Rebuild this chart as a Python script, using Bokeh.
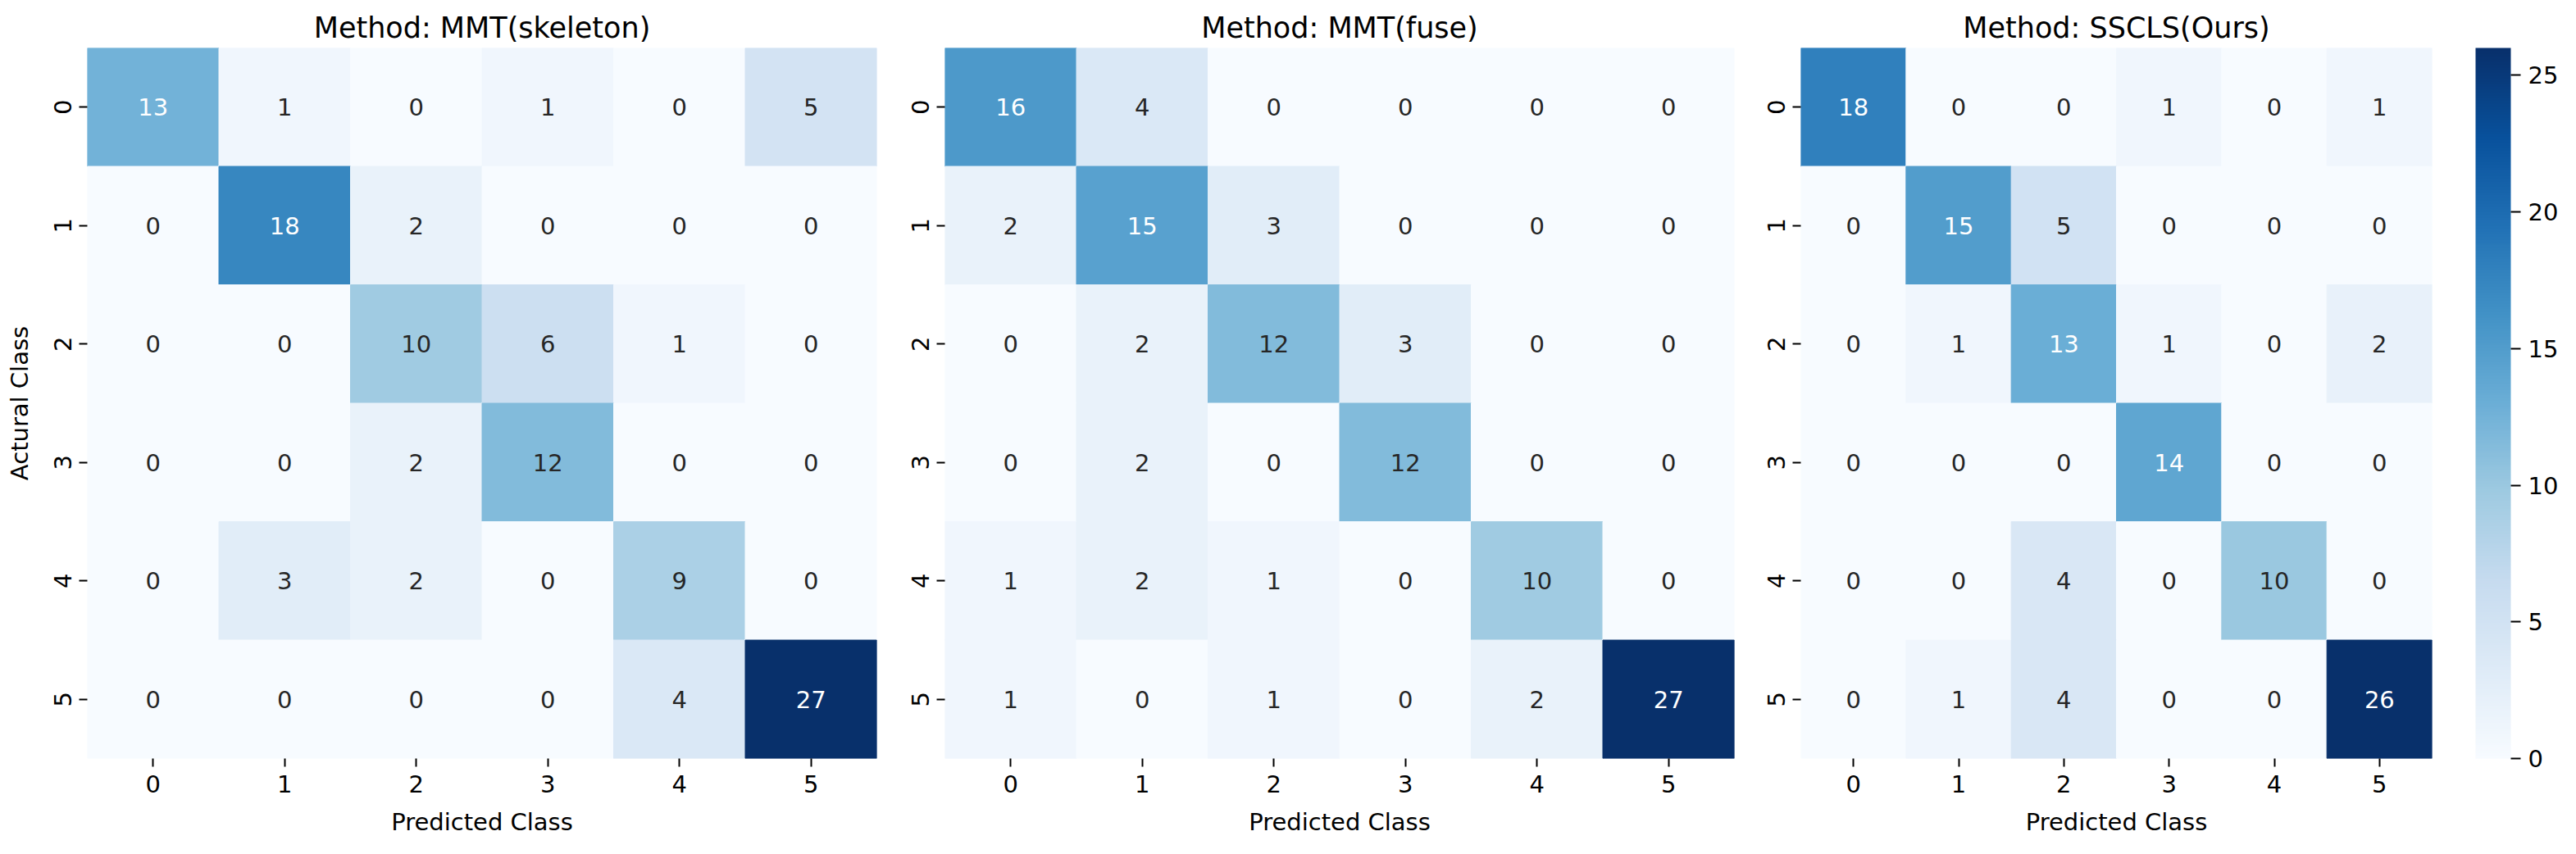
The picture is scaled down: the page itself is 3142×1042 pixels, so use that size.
import numpy as np
from bokeh.plotting import figure
from bokeh.models import ColumnDataSource, LinearColorMapper, ColorBar, FixedTicker, Range1d
from bokeh.layouts import row
from bokeh.embed import file_html
from bokeh.resources import INLINE
from bokeh.core.properties import value

# ---------------- data ----------------
classes = ["0", "1", "2", "3", "4", "5"]

title_skeleton = "Method: MMT(skeleton)"
title_fuse = "Method: MMT(fuse)"
title_ours = "Method: SSCLS(Ours)"

cm_skeleton = [
    [13, 1, 0, 1, 0, 5],
    [0, 18, 2, 0, 0, 0],
    [0, 0, 10, 6, 1, 0],
    [0, 0, 2, 12, 0, 0],
    [0, 3, 2, 0, 9, 0],
    [0, 0, 0, 0, 4, 27],
]
cm_fuse = [
    [16, 4, 0, 0, 0, 0],
    [2, 15, 3, 0, 0, 0],
    [0, 2, 12, 3, 0, 0],
    [0, 2, 0, 12, 0, 0],
    [1, 2, 1, 0, 10, 0],
    [1, 0, 1, 0, 2, 27],
]
cm_ours = [
    [18, 0, 0, 1, 0, 1],
    [0, 15, 5, 0, 0, 0],
    [0, 1, 13, 1, 0, 2],
    [0, 0, 0, 14, 0, 0],
    [0, 0, 4, 0, 10, 0],
    [0, 1, 4, 0, 0, 26],
]
colorbar_ticks = [0, 5, 10, 15, 20, 25]
x_label = "Predicted Class"
y_label = "Actural Class"

# ---------------- style ----------------
FONT = "DejaVu Sans"
anchors = ["#f7fbff", "#deebf7", "#c6dbef", "#9ecae1", "#6baed6",
           "#4292c6", "#2171b5", "#08519c", "#08306b"]
arr = np.array([[int(h[i:i + 2], 16) for i in (1, 3, 5)] for h in anchors], float)
pos = np.linspace(0, 1, len(anchors))
BLUES = []
for k in range(256):
    t = k / 255
    rgb = [np.interp(t, pos, arr[:, c]) for c in range(3)]
    BLUES.append("#%02x%02x%02x" % tuple(int(round(c)) for c in rgb))


def lum(hexc):
    rgb = np.array([int(hexc[i:i + 2], 16) for i in (1, 3, 5)]) / 255.0
    lin = np.where(rgb <= 0.03928, rgb / 12.92, ((rgb + 0.055) / 1.055) ** 2.4)
    return 0.2126 * lin[0] + 0.7152 * lin[1] + 0.0722 * lin[2]


FRAME_H = 867


def make_fig(matrix, title, frame_w, b_left, b_right, ylab=None):
    n = len(classes)
    xs, ys, vals, labels = [], [], [], []
    for i, r in enumerate(matrix):
        for j, v in enumerate(r):
            xs.append(j + 0.5)
            ys.append(i + 0.5)
            vals.append(v)
            labels.append(str(v))
    vmin, vmax = min(vals), max(vals)
    mapper = LinearColorMapper(palette=BLUES, low=vmin, high=vmax)
    tcol = []
    for v in vals:
        idx = min(int((v - vmin) / (vmax - vmin) * 256), 255)
        tcol.append("#ffffff" if lum(BLUES[idx]) < 0.408 else "#262626")
    src = ColumnDataSource(dict(x=xs, y=ys, v=vals, label=labels, tc=tcol))

    p = figure(frame_width=frame_w, frame_height=FRAME_H,
               x_range=Range1d(0, n), y_range=Range1d(n, 0),
               output_backend="svg", toolbar_location=None, tools="",
               min_border_left=b_left, min_border_right=b_right,
               min_border_top=58, min_border_bottom=101)
    p.rect(x="x", y="y", width=1, height=1, source=src,
           fill_color={"field": "v", "transform": mapper},
           line_color={"field": "v", "transform": mapper}, line_width=1)
    p.text(x="x", y="y", text="label", source=src, text_color="tc",
           text_align="center", text_baseline="middle",
           text_font=value(FONT), text_font_size=value("29px"))

    p.grid.visible = False
    p.outline_line_color = None
    p.title.text = title
    p.title.align = "center"
    p.title.text_font = FONT
    p.title.text_font_size = "35px"
    p.title.text_font_style = "normal"
    p.title.text_color = "black"
    p.title.standoff = 10

    ticks = [j + 0.5 for j in range(n)]
    over = {j + 0.5: c for j, c in enumerate(classes)}
    for ax in (p.xaxis[0], p.yaxis[0]):
        ax.ticker = FixedTicker(ticks=ticks)
        ax.major_label_overrides = over
        ax.axis_line_color = None
        ax.minor_tick_line_color = None
        ax.major_tick_in = 0
        ax.major_tick_out = 10
        ax.major_tick_line_width = 2
        ax.major_tick_line_color = "black"
        ax.major_label_text_font = FONT
        ax.major_label_text_font_size = "29px"
        ax.major_label_text_color = "black"
        ax.major_label_standoff = 10
        ax.axis_label_text_font = FONT
        ax.axis_label_text_font_size = "29px"
        ax.axis_label_text_font_style = "normal"
        ax.axis_label_text_color = "black"
    p.yaxis.major_label_orientation = "vertical"
    p.xaxis.axis_label = x_label
    p.xaxis.axis_label_standoff = 16
    if ylab:
        p.yaxis.axis_label = ylab
        p.yaxis.axis_label_standoff = 22
    return p, mapper


p1, _ = make_fig(cm_skeleton, title_skeleton, 963, 106, 20, y_label)
p2, _ = make_fig(cm_fuse, title_fuse, 963, 63, 20)
p3, m3 = make_fig(cm_ours, title_ours, 770, 61, 150)

cb = ColorBar(color_mapper=m3, ticker=FixedTicker(ticks=colorbar_ticks),
              width=43, height=FRAME_H, padding=0, margin=0,
              location=(53, 0),
              major_label_text_font=FONT, major_label_text_font_size="29px",
              major_label_text_color="black",
              major_tick_in=0, major_tick_out=12, major_tick_line_color="black",
              major_tick_line_width=2, label_standoff=9,
              bar_line_color=None, border_line_color=None,
              background_fill_color=None)
p3.add_layout(cb, "right")

layout = row(p1, p2, p3)
open("out.html", "w").write(file_html(layout, INLINE))
